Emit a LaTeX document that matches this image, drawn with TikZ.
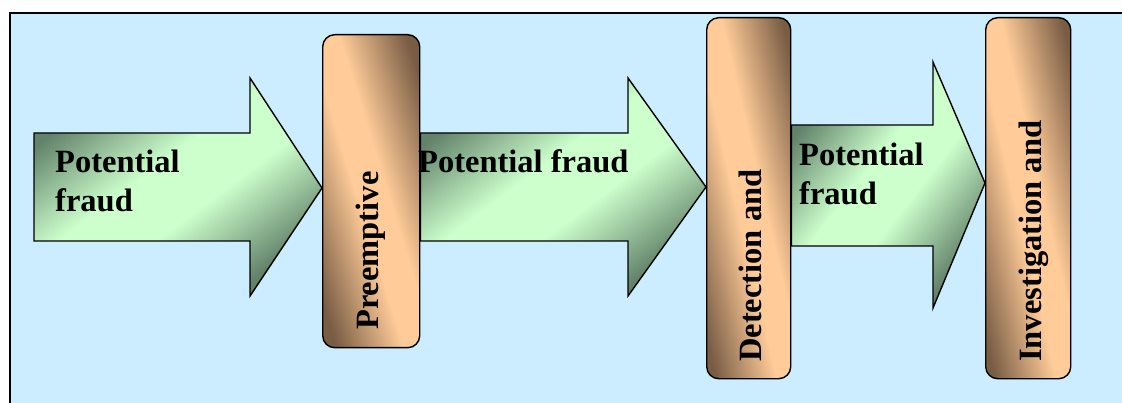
\documentclass[tikz,border=0pt]{standalone}
\usepackage{fontspec}
\setmainfont{Liberation Serif}
\definecolor{bgblue}{HTML}{CCECFF}
\definecolor{glight}{HTML}{CCFFCC}
\definecolor{gdark}{HTML}{62826A}
\definecolor{olight}{HTML}{FFCC99}
\definecolor{odark}{HTML}{785C44}
\pgfdeclareverticalshading{greenshade}{100bp}{color(0bp)=(gdark); color(26bp)=(gdark); color(44bp)=(glight); color(56bp)=(glight); color(74bp)=(gdark); color(100bp)=(gdark)}
\pgfdeclareverticalshading{boxshade}{100bp}{color(0bp)=(odark); color(23bp)=(odark); color(45bp)=(olight); color(55bp)=(olight); color(77bp)=(odark); color(100bp)=(odark)}
\begin{document}
\begin{tikzpicture}[x=1pt,y=-1pt,
  arrowshape/.style={draw=black, line width=1.4pt, line join=miter, shading=greenshade},
  stage/.style={draw=black, line width=1.4pt, rounded corners=12pt, shading=boxshade, inner sep=0pt, anchor=north west},
  lbl/.style={font=\fontsize{32.5}{39}\selectfont\bfseries, inner sep=0pt, align=left, anchor=base west},
  vlbl/.style={lbl, rotate=90}]
\useasboundingbox (0,0) rectangle (1122,403);
\path[fill=bgblue, draw=black, line width=2pt] (10,13) rectangle (1140,420);
% stage boxes
\node[stage, minimum width=97pt, minimum height=313pt, shading angle=-72.8] (pre) at (322,34) {};
\node[stage, minimum width=84pt, minimum height=361pt, shading angle=-76.9] (det) at (706,17) {};
\node[stage, minimum width=85pt, minimum height=361pt, shading angle=-76.8] (inv) at (985,17) {};
% block arrows
\draw[arrowshape, shading angle=37] (34,133) -- (250,133) -- (250,78) -- (pre.west |- 0,188) -- (250,296) -- (250,241) -- (34,241) -- cycle;
\draw[arrowshape, shading angle=37] (pre.east |- 0,133) -- (628,133) -- (628,78) -- (det.west |- 0,187) -- (628,296) -- (628,241) -- (pre.east |- 0,241) -- cycle;
\draw[arrowshape, shading angle=52] (det.east |- 0,125) -- (933,125) -- (933,62) -- (inv.west |- 0,183) -- (933,308) -- (933,246) -- (det.east |- 0,246) -- cycle;
% labels (base = baseline of the last line)
\node[lbl] (t1) at (55,212) {Potential\\fraud};
\node[lbl] (t2) at (418,173) {Potential fraud};
\node[lbl] (t3) at (799,205) {Potential\\fraud};
\node[vlbl] (l1) at (378,330) {Preemptive};
\node[vlbl] (l2) at (761,362) {Detection and};
\node[vlbl] (l3) at (1041,362) {Investigation and};
\end{tikzpicture}
\end{document}
